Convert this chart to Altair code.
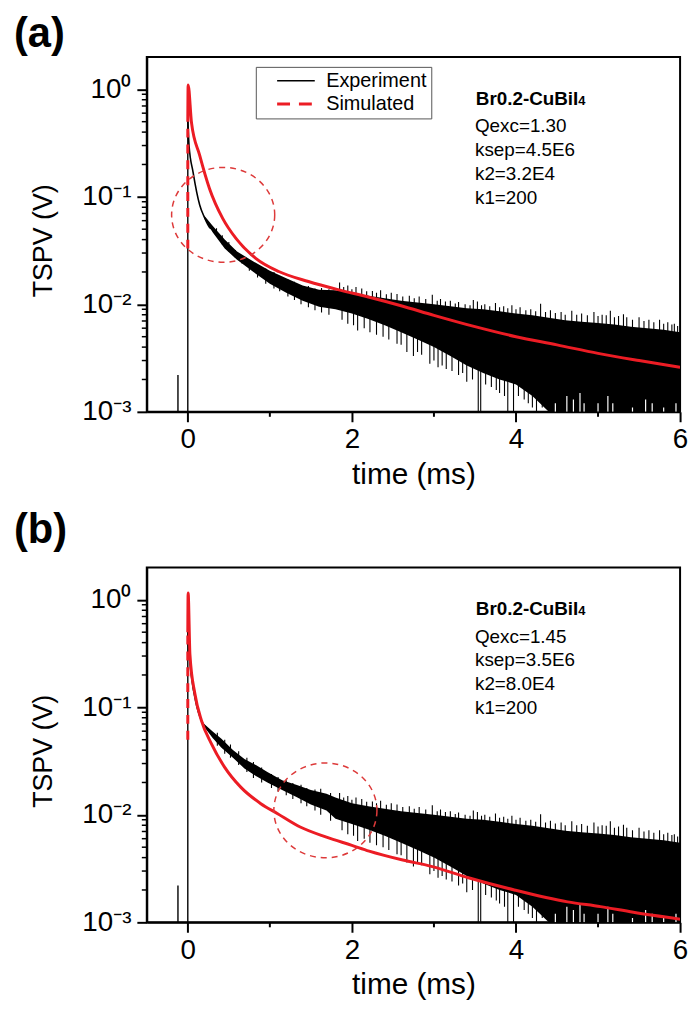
import altair as alt
import pandas as pd

FONT = "Liberation Sans"
RED = "#ec1c24"
ELL_RED = "#dd3a3a"
W, H = 538, 358

# ---------------- axes -----------------
X_DOMAIN = [-0.5, 6]
Y_DOMAIN = [0.001, 2]
X_TICKS = [0, 2, 4, 6]
X_MINOR = [1, 3, 5]
Y_TICKS = [0.001, 0.01, 0.1, 1]
Y_TICK_LABELS = ["10⁻³", "10⁻²", "10⁻¹", "10⁰"]
Y_MINOR = [0.002, 0.003, 0.004, 0.005, 0.006, 0.007, 0.008, 0.009,
           0.02, 0.03, 0.04, 0.05, 0.06, 0.07, 0.08, 0.09,
           0.2, 0.3, 0.4, 0.5, 0.6, 0.7, 0.8, 0.9]

# ---------------- panel (a) experiment -----------------
A_EXP_X = [0.0, 0.015, 0.064, 0.145, 0.20, 0.265, 0.30, 0.45, 0.60, 0.80, 1.00, 1.20, 1.40, 1.60, 1.80]
A_EXP_Y = [0.55, 0.30, 0.17, 0.084, 0.065, 0.052, 0.050, 0.036, 0.028, 0.0225, 0.018, 0.015, 0.0128, 0.0115, 0.0108]
A_PEAK = 0.55
A_BAND_X = [0.20, 0.30, 0.45, 0.60, 0.80, 1.00, 1.20, 1.40, 1.60, 1.80]
A_BAND_HI = [0.067, 0.054, 0.040, 0.031, 0.025, 0.0205, 0.0175, 0.0150, 0.0137, 0.0135]
A_BAND_LO = [0.063, 0.047, 0.033, 0.026, 0.020, 0.0155, 0.0128, 0.0108, 0.0095, 0.0090]
A_FUZZ_X = [0.35, 0.42, 0.50, 0.58, 0.66, 0.75, 0.85, 0.95, 1.05, 1.12, 1.22, 1.30, 1.38, 1.47, 1.55, 1.63, 1.72]
A_FUZZ_LO = [0.043, 0.036, 0.031, 0.027, 0.024, 0.0205, 0.0178, 0.0155, 0.0140, 0.0132, 0.0118, 0.0110, 0.0100, 0.0094, 0.0088, 0.0084, 0.0080]
A_FUZZ_HI = [0.051, 0.044, 0.038, 0.032, 0.0285, 0.0255, 0.0235, 0.0215, 0.0200, 0.0182, 0.0170, 0.0162, 0.0150, 0.0148, 0.0140, 0.0142, 0.0138]

# ---------------- panel (b) experiment -----------------
B_EXP_X = [0.0, 0.015, 0.046, 0.10, 0.167, 0.20, 0.30, 0.41, 0.55, 0.69, 0.83, 0.97, 1.15, 1.33, 1.50, 1.69, 1.80]
B_EXP_Y = [0.55, 0.33, 0.19, 0.11, 0.075, 0.068, 0.056, 0.046, 0.037, 0.030, 0.026, 0.0224, 0.019, 0.0167, 0.0146, 0.0131, 0.0115]
B_PEAK = 0.55
B_BAND_X = [0.20, 0.30, 0.41, 0.55, 0.69, 0.83, 0.97, 1.15, 1.33, 1.50, 1.69, 1.80]
B_BAND_HI = [0.070, 0.060, 0.051, 0.040, 0.033, 0.029, 0.025, 0.021, 0.0189, 0.0170, 0.0157, 0.0145]
B_BAND_LO = [0.066, 0.052, 0.042, 0.034, 0.027, 0.023, 0.020, 0.0170, 0.0146, 0.0125, 0.0110, 0.0092]
B_FUZZ_X = [0.36, 0.45, 0.52, 0.62, 0.72, 0.80, 0.90, 1.02, 1.10, 1.20, 1.28, 1.38, 1.45, 1.55, 1.62, 1.74]
B_FUZZ_LO = [0.044, 0.037, 0.034, 0.029, 0.025, 0.022, 0.020, 0.0178, 0.0165, 0.0152, 0.0140, 0.0128, 0.0120, 0.0110, 0.0100, 0.0088]
B_FUZZ_HI = [0.058, 0.050, 0.045, 0.039, 0.034, 0.031, 0.0275, 0.024, 0.0225, 0.0210, 0.0198, 0.0190, 0.0178, 0.0172, 0.0175, 0.0160]

# ---------------- shared noisy tail of the experiment -----------------
TAIL_X = [2.0, 2.2, 2.4, 2.6, 2.8, 3.0, 3.2, 3.4, 3.6, 3.8, 4.0, 4.2, 4.4, 4.6, 4.8,
          5.0, 5.2, 5.4, 5.6, 5.8, 6.0]
TAIL_HI = [0.0128, 0.0120, 0.0114, 0.0108, 0.0104, 0.0100, 0.0096, 0.0092, 0.0090, 0.0086, 0.0082,
           0.0079, 0.0075, 0.0071, 0.0069, 0.0067, 0.0065, 0.0062, 0.0060, 0.0058, 0.0055]
TAIL_LO = [0.0082, 0.0073, 0.0064, 0.0055, 0.0047, 0.0040, 0.0033, 0.0027, 0.0023, 0.0020, 0.0018,
           0.0014, 0.0010, 0.0010, 0.0010, 0.0010, 0.0010, 0.0010, 0.0010, 0.0010, 0.0010]
UP_X = [1.85, 1.90, 1.95, 2.00, 2.05, 2.12, 2.18, 2.25, 2.30, 2.35, 2.42, 2.48, 2.55, 2.62, 2.70,
        2.76, 2.82, 2.90, 2.98, 3.04, 3.08, 3.14, 3.20, 3.26, 3.30, 3.38, 3.44, 3.48, 3.53, 3.58,
        3.62, 3.68, 3.75, 3.80, 3.85, 3.90, 3.95, 4.00, 4.05, 4.12, 4.18, 4.24, 4.30, 4.36, 4.42,
        4.48, 4.55, 4.60, 4.68, 4.74, 4.80, 4.87, 4.95, 5.00, 5.05, 5.10, 5.15, 5.20, 5.25, 5.31,
        5.35, 5.42, 5.50, 5.56, 5.62, 5.68, 5.75, 5.80, 5.85, 5.90, 5.93, 5.97]
UP_TOP = [0.0160, 0.0145, 0.0150, 0.0138, 0.0145, 0.0140, 0.0132, 0.0133, 0.0128, 0.0135, 0.0124,
          0.0128, 0.0125, 0.0118, 0.0120, 0.0114, 0.0118, 0.0112, 0.0123, 0.0108, 0.0112, 0.0106,
          0.0108, 0.0102, 0.0105, 0.0100, 0.0098, 0.0110, 0.0106, 0.0098, 0.0100, 0.0096, 0.0103,
          0.0094, 0.0096, 0.0092, 0.0098, 0.0090, 0.0094, 0.0088, 0.0090, 0.0086, 0.0101, 0.0085,
          0.0088, 0.0083, 0.0085, 0.0080, 0.0087, 0.0080, 0.0082, 0.0079, 0.0085, 0.0078, 0.0080,
          0.0079, 0.0087, 0.0076, 0.0078, 0.0081, 0.0076, 0.0072, 0.0076, 0.0070, 0.0072, 0.0068,
          0.0072, 0.0066, 0.0068, 0.0065, 0.0066, 0.0063]
UP_BASE = [0.0110, 0.0108, 0.0105, 0.0102, 0.0100, 0.0098, 0.0095, 0.0093, 0.0091, 0.0090, 0.0088,
           0.0086, 0.0080, 0.0078, 0.0075, 0.0072, 0.0070, 0.0066, 0.0062, 0.0061, 0.0060, 0.0058,
           0.0055, 0.0054, 0.0052, 0.0050, 0.0048, 0.0047, 0.0046, 0.0045, 0.0044, 0.0043, 0.0042,
           0.0041, 0.0041, 0.0040, 0.0039, 0.0038, 0.0037, 0.0036, 0.0034, 0.0033, 0.0032, 0.0030,
           0.0029, 0.0029, 0.0028, 0.0028, 0.0027, 0.0027, 0.0027, 0.0027, 0.0026, 0.0026, 0.0026,
           0.0026, 0.0026, 0.0026, 0.0026, 0.0025, 0.0025, 0.0025, 0.0025, 0.0025, 0.0024, 0.0024,
           0.0024, 0.0024, 0.0023, 0.0023, 0.0023, 0.0023]
DN_X = [1.88, 1.95, 2.02, 2.07, 2.15, 2.22, 2.30, 2.38, 2.45, 2.55, 2.60, 2.67, 2.75, 2.80, 2.85,
        2.95, 3.00, 3.05, 3.10, 3.15, 3.22, 3.30, 3.35, 3.40, 3.47, 3.54, 3.57, 3.63, 3.70, 3.76,
        3.80, 3.86, 3.90, 3.97, 4.03, 4.10, 4.15, 4.20, 4.25, 4.32]
DN_BOT = [0.0072, 0.0066, 0.0064, 0.0057, 0.0060, 0.0055, 0.0052, 0.0050, 0.0047, 0.0043, 0.0042,
          0.0036, 0.0033, 0.0036, 0.0034, 0.0028, 0.0030, 0.0026, 0.0027, 0.0025, 0.0024, 0.0022,
          0.0023, 0.0019, 0.0020, 0.0010, 0.0010, 0.0018, 0.0017, 0.0016, 0.0015, 0.0014, 0.0010,
          0.0010, 0.0014, 0.0013, 0.0012, 0.0011, 0.0010, 0.0011]
DN_BASE = [0.0100, 0.0098, 0.0096, 0.0096, 0.0094, 0.0092, 0.0090, 0.0088, 0.0086, 0.0080, 0.0078,
           0.0076, 0.0072, 0.0070, 0.0068, 0.0064, 0.0062, 0.0060, 0.0059, 0.0058, 0.0055, 0.0053,
           0.0052, 0.0050, 0.0048, 0.0046, 0.0045, 0.0044, 0.0043, 0.0042, 0.0041, 0.0040, 0.0040,
           0.0038, 0.0037, 0.0035, 0.0034, 0.0033, 0.0033, 0.0032]
# small white gaps in the dense noise near the bottom edge
GAP_X = [4.48, 4.62, 4.70, 4.78, 4.83, 5.00, 5.12, 5.18, 5.42, 5.58, 5.66, 5.80, 5.95]
GAP_TOP = [0.0012, 0.0014, 0.0013, 0.0015, 0.0012, 0.0012, 0.0014, 0.0012, 0.0011, 0.0013, 0.0012, 0.0011, 0.0012]

# pre-trigger glitch of the experiment trace
GLITCH_X = [-0.12]
GLITCH_TOP = [0.0022]

# ---------------- simulated curves -----------------
A_SIM_X = [0.0, 0.004, 0.045, 0.145, 0.265, 0.425, 0.587, 0.828, 1.108, 1.47, 1.83, 2.2, 2.6,
           3.0, 3.5, 4.0, 4.5, 5.0, 5.5, 6.0]
A_SIM_Y = [0.5, 1.1, 0.49, 0.243, 0.119, 0.063, 0.041, 0.0268, 0.0202, 0.0163, 0.0137, 0.0117,
           0.0097, 0.0079, 0.0062, 0.0050, 0.0042, 0.0035, 0.0030, 0.0026]
A_SIM_RISE = [0.033, 0.5]
B_SIM_X = [0.0, 0.004, 0.026, 0.087, 0.167, 0.287, 0.448, 0.648, 0.89, 1.09, 1.37, 1.69, 2.0,
           2.21, 2.62, 2.98, 3.42, 3.98, 4.63, 5.03, 5.43, 6.0]
B_SIM_Y = [0.5, 1.16, 0.31, 0.133, 0.075, 0.046, 0.0278, 0.018, 0.0127, 0.0103, 0.0077, 0.0062,
           0.0052, 0.0046, 0.0038, 0.0033, 0.0026, 0.0020, 0.00155, 0.0014, 0.00124, 0.00107]
B_SIM_RISE = [0.05, 0.5]

# ---------------- annotations -----------------
SAMPLE_MAIN = "Br0.2-CuBiI"
SAMPLE_SUB = "4"
PARAM_Y = [0.40, 0.24, 0.1436, 0.0861]
A_PARAMS = ["Qexc=1.30", "ksep=4.5E6", "k2=3.2E4", "k1=200"]
B_PARAMS = ["Qexc=1.45", "ksep=3.5E6", "k2=8.0E4", "k1=200"]
TITLE_Y = 0.72
TITLE_END_X = 4.76
PARAM_X = 3.50
A_ELLIPSE = (0.431, 0.068)
B_ELLIPSE = (1.677, 0.0110)
ELLIPSE_PATH = ("M 1 0 C 1 0.508 0.5523 0.92 0 0.92 C -0.5523 0.92 -1 0.508 -1 0 "
                "C -1 -0.508 -0.5523 -0.92 0 -0.92 C 0.5523 -0.92 1 -0.508 1 0 Z")
LEGEND_LINE = "M -1 0 L 3.22 0"
SERIES = ["Experiment", "Simulated"]

label_expr = " : ".join(
    [f"datum.value < {v * 1.5} ? '{l}'" for v, l in zip(Y_TICKS, Y_TICK_LABELS)]
) + " : ''"

XAX = alt.Axis(values=X_TICKS, tickSize=10, tickWidth=2, domainWidth=2, labelFontSize=28,
               labelPadding=4, titleFontSize=30, titleFontWeight="normal", titlePadding=6,
               grid=False, labelFlush=False, format="d")


def yax(title_y):
    return alt.Axis(values=Y_TICKS, labelExpr=label_expr, tickSize=10, tickWidth=2, domainWidth=2,
                    labelFontSize=28, labelPadding=6, titleFontSize=27, titleFontWeight="normal",
                    titleX=-90, titleY=title_y, grid=False)


def X(field):
    return alt.X(field, type="quantitative", scale=alt.Scale(domain=X_DOMAIN, nice=False, zero=False),
                 axis=XAX, title="time (ms)")


def Y(field, title_y):
    return alt.Y(field, type="quantitative",
                 scale=alt.Scale(type="log", domain=Y_DOMAIN, nice=False),
                 axis=yax(title_y), title="TSPV (V)")


def panel(label, label_y, exp_x, exp_y, peak, band_x, band_hi, band_lo, fuzz_x, fuzz_lo, fuzz_hi,
          sim_x, sim_y, rise, ell, params, title_y, legend=False):
    Yf = lambda f: Y(f, title_y)
    band = pd.DataFrame({"x": band_x + TAIL_X, "lo": band_lo + TAIL_LO, "hi": band_hi + TAIL_HI})
    spikes = pd.DataFrame({"x": fuzz_x + UP_X + DN_X,
                           "a": fuzz_lo + UP_BASE + DN_BOT,
                           "b": fuzz_hi + UP_TOP + DN_BASE})
    gaps = pd.DataFrame({"x": GAP_X, "a": [0.001] * len(GAP_X), "b": GAP_TOP})
    exp = pd.DataFrame({"x": exp_x, "y": exp_y})
    vert = pd.DataFrame({"x": [0.0] + GLITCH_X, "a": [0.001, 0.001], "b": [peak] + GLITCH_TOP})
    sim = pd.DataFrame({"x": sim_x, "y": sim_y})
    risedf = pd.DataFrame({"x": [0.0], "a": [rise[0]], "b": [rise[1]]})
    ell_df = pd.DataFrame({"x": [ell[0]], "y": [ell[1]]})
    ttl = pd.DataFrame({"x": [TITLE_END_X], "y": [TITLE_Y], "t": [SAMPLE_MAIN], "s": [SAMPLE_SUB]})
    par = pd.DataFrame({"x": [PARAM_X] * len(params), "y": PARAM_Y, "t": params})
    xm = pd.DataFrame({"x": X_MINOR})
    ym = pd.DataFrame({"y": Y_MINOR})
    lab = pd.DataFrame({"t": [label]})

    layers = [
        alt.Chart(band).mark_area(color="black", clip=True, interpolate="linear")
        .encode(x=X("x"), y=Yf("lo"), y2="hi"),
        alt.Chart(spikes).mark_rule(color="black", strokeWidth=1.1, clip=True)
        .encode(x=X("x"), y=Yf("a"), y2="b"),
        alt.Chart(gaps).mark_rule(color="white", strokeWidth=1.2, clip=True)
        .encode(x=X("x"), y=Yf("a"), y2="b"),
        alt.Chart(exp).mark_line(color="black", strokeWidth=1.6, interpolate="monotone", clip=True)
        .encode(x=X("x"), y=Yf("y")),
        alt.Chart(vert).mark_rule(color="black", strokeWidth=1.4, clip=True)
        .encode(x=X("x"), y=Yf("a"), y2="b"),
        alt.Chart(sim).mark_line(color=RED, strokeWidth=3, interpolate="monotone", clip=True)
        .encode(x=X("x"), y=Yf("y")),
        alt.Chart(risedf).mark_rule(color=RED, strokeWidth=3, strokeDash=[9, 7])
        .encode(x=X("x"), y=Yf("a"), y2="b"),
        alt.Chart(ell_df).mark_point(shape=ELLIPSE_PATH, size=10816, filled=False, color=ELL_RED,
                                     strokeWidth=1.5, strokeDash=[6, 5], opacity=1)
        .encode(x=X("x"), y=Yf("y")),
        alt.Chart(ttl).mark_text(font=FONT, fontSize=19, fontWeight="bold", align="right",
                                 baseline="alphabetic", color="black")
        .encode(x=X("x"), y=Yf("y"), text="t:N"),
        alt.Chart(ttl).mark_text(font=FONT, fontSize=13, fontWeight="bold", align="left",
                                 baseline="alphabetic", color="black")
        .encode(x=X("x"), y=Yf("y"), text="s:N"),
        alt.Chart(par).mark_text(font=FONT, fontSize=19, align="left", baseline="alphabetic",
                                 color="black")
        .encode(x=X("x"), y=Yf("y"), text="t:N"),
        alt.Chart(xm).mark_rule(color="black", strokeWidth=2)
        .encode(x=X("x"), y=alt.value(H), y2=alt.value(H + 5)),
        alt.Chart(ym).mark_rule(color="black", strokeWidth=1.5)
        .encode(y=Yf("y"), x=alt.value(0), x2=alt.value(-5)),
        alt.Chart(lab).mark_text(font=FONT, fontSize=42, fontWeight="bold", align="left",
                                 baseline="alphabetic", color="black")
        .encode(x=alt.value(-134), y=alt.value(label_y), text="t:N"),
    ]
    if legend:
        leg = pd.DataFrame({"x": [-2.0, -1.5, -2.0, -1.5], "y": [0.1, 0.1, 0.2, 0.2],
                            "series": [SERIES[0], SERIES[0], SERIES[1], SERIES[1]]})
        layers.append(
            alt.Chart(leg).mark_line(clip=True)
            .encode(
                x=X("x"), y=Yf("y"),
                color=alt.Color("series:N", scale=alt.Scale(domain=SERIES, range=["black", RED]),
                                title=None,
                                legend=alt.Legend(orient="none", legendX=110, legendY=10,
                                                  strokeColor="#555555", fillColor="white",
                                                  padding=4, symbolType=LEGEND_LINE, symbolSize=324,
                                                  symbolOffset=16, labelFontSize=20, labelFont=FONT,
                                                  rowPadding=3, labelOffset=30)),
                strokeDash=alt.StrokeDash("series:N",
                                          scale=alt.Scale(domain=SERIES, range=[[1, 0], [13, 9]]),
                                          title=None, legend=None),
                strokeWidth=alt.StrokeWidth("series:N",
                                            scale=alt.Scale(domain=SERIES, range=[1.6, 3]),
                                            title=None, legend=None),
            )
        )
    return alt.layer(*layers).properties(width=W, height=H)


pa = panel("(a)", -10, A_EXP_X, A_EXP_Y, A_PEAK, A_BAND_X, A_BAND_HI, A_BAND_LO,
           A_FUZZ_X, A_FUZZ_LO, A_FUZZ_HI,
           A_SIM_X, A_SIM_Y, A_SIM_RISE, A_ELLIPSE, A_PARAMS, 185, legend=True)
pb = panel("(b)", -25, B_EXP_X, B_EXP_Y, B_PEAK, B_BAND_X, B_BAND_HI, B_BAND_LO,
           B_FUZZ_X, B_FUZZ_LO, B_FUZZ_HI,
           B_SIM_X, B_SIM_Y, B_SIM_RISE, B_ELLIPSE, B_PARAMS, 185)

chart = (
    alt.vconcat(pa, pb, spacing=18)
    .resolve_legend(color="independent", strokeDash="independent", strokeWidth="independent")
    .properties(padding={"left": 5, "top": 0, "right": 0, "bottom": 0})
    .configure_view(stroke="black", strokeWidth=2)
    .configure_axis(domainColor="black", tickColor="black", labelColor="black",
                    titleColor="black", labelFont=FONT, titleFont=FONT)
)

chart.save("out.html", embed_options={"renderer": "svg", "actions": False})
